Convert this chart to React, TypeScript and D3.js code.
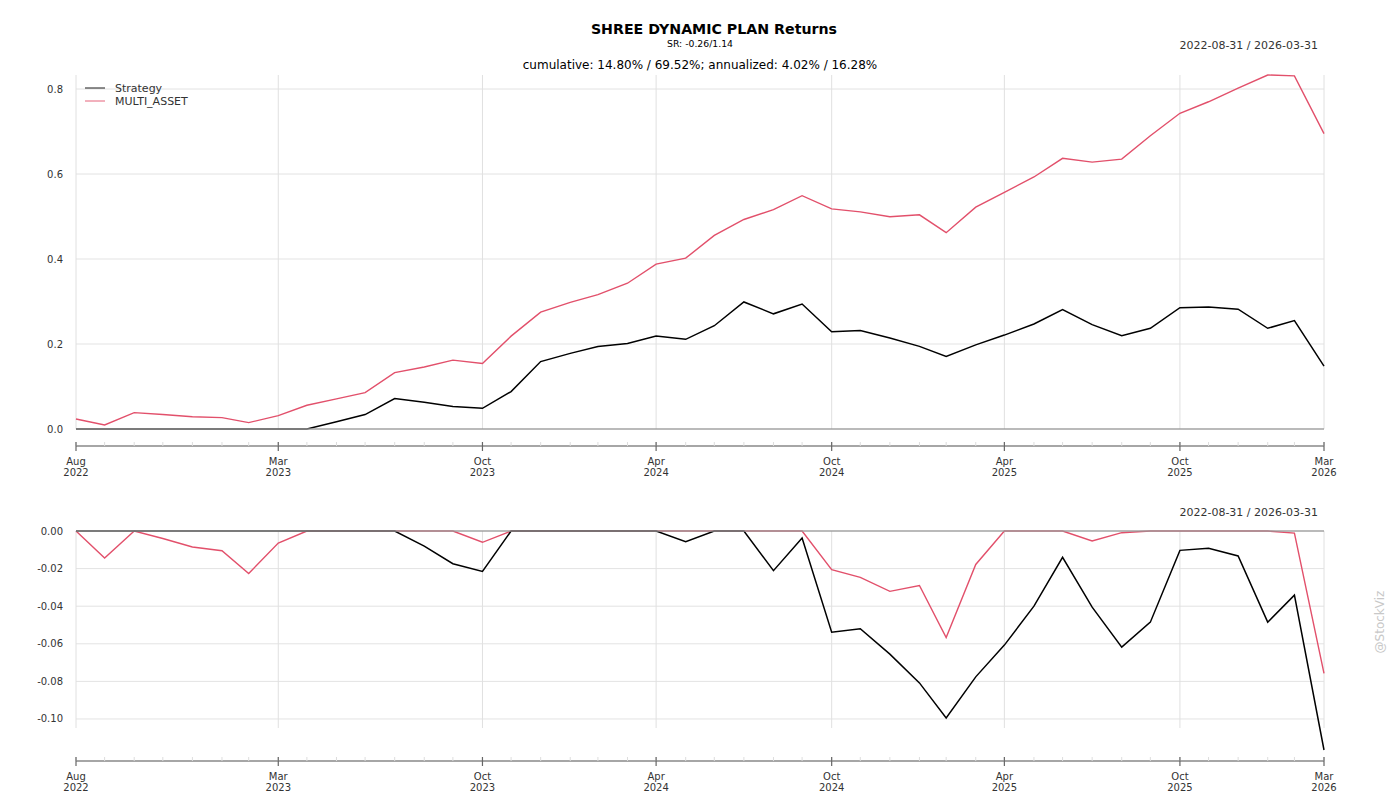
import React from "react";
import * as d3 from "d3";

const months: string[] = [
  "2022-08-31","2022-09-30","2022-10-31","2022-11-30","2022-12-31",
  "2023-01-31","2023-02-28","2023-03-31","2023-04-30","2023-05-31","2023-06-30","2023-07-31","2023-08-31","2023-09-30","2023-10-31","2023-11-30","2023-12-31",
  "2024-01-31","2024-02-29","2024-03-31","2024-04-30","2024-05-31","2024-06-30","2024-07-31","2024-08-31","2024-09-30","2024-10-31","2024-11-30","2024-12-31",
  "2025-01-31","2025-02-28","2025-03-31","2025-04-30","2025-05-31","2025-06-30","2025-07-31","2025-08-31","2025-09-30","2025-10-31","2025-11-30","2025-12-31",
  "2026-01-31","2026-02-28","2026-03-31",
];

const strategyCum: number[] = [
  0, 0, 0, 0, 0, 0, 0, 0, 0, 0.017, 0.034, 0.0715, 0.063, 0.053, 0.0487, 0.088, 0.1587,
  0.178, 0.194, 0.201, 0.219, 0.211, 0.243, 0.299, 0.271, 0.294, 0.229, 0.232, 0.214,
  0.1945, 0.171, 0.198, 0.221, 0.247, 0.281, 0.2455, 0.2196, 0.237, 0.2855, 0.287, 0.282,
  0.237, 0.255, 0.148,
];

const multiAssetCum: number[] = [
  0.0236, 0.0094, 0.0385, 0.034, 0.029, 0.0267, 0.015, 0.0314, 0.0558, 0.071, 0.0857, 0.1328, 0.146, 0.162, 0.154, 0.2185, 0.275,
  0.298, 0.316, 0.343, 0.388, 0.402, 0.4557, 0.493, 0.516, 0.549, 0.518, 0.511, 0.4996,
  0.504, 0.462, 0.522, 0.557, 0.593, 0.637, 0.628, 0.635, 0.69, 0.743, 0.77, 0.802,
  0.833, 0.831, 0.6952,
];

const strategyDD: number[] = [
  0, 0, 0, 0, 0, 0, 0, 0, 0, 0, 0, 0, -0.008, -0.0174, -0.0215, 0, 0,
  0, 0, 0, 0, -0.0057, 0, 0, -0.0211, -0.0037, -0.0538, -0.052, -0.0655,
  -0.0808, -0.0995, -0.0776, -0.0607, -0.04, -0.014, -0.0405, -0.0618, -0.0485, -0.0103, -0.0092, -0.0133,
  -0.0485, -0.0341, -0.1165,
];

const multiAssetDD: number[] = [
  0, -0.0144, 0, -0.004, -0.0085, -0.0105, -0.0226, -0.0064, 0, 0, 0, 0, 0, 0, -0.006, 0, 0,
  0, 0, 0, 0, 0, 0, 0, 0, 0, -0.0206, -0.0247, -0.0321,
  -0.029, -0.0567, -0.0178, 0, 0, 0, -0.0053, -0.0009, 0, 0, 0, 0,
  0, -0.0011, -0.0757,
];

const majorTicks: string[] = ["2022-08-31","2023-03-31","2023-10-31","2024-04-30","2024-10-31","2025-04-30","2025-10-31","2026-03-31"];
const majorLabels: [string, string][] = [["Aug","2022"],["Mar","2023"],["Oct","2023"],["Apr","2024"],["Oct","2024"],["Apr","2025"],["Oct","2025"],["Mar","2026"]];
const topYTicks: number[] = [0, 0.2, 0.4, 0.6, 0.8];
const botYTicks: number[] = [0, -0.02, -0.04, -0.06, -0.08, -0.1];

const seriesNames = ["Strategy", "MULTI_ASSET"];
const colors = ["#000000", "#e2506b"];

const FONT = "DejaVu Sans, sans-serif";
const parse = d3.utcParse("%Y-%m-%d");
const dates = months.map((m) => parse(m) as Date);

const X0 = 76, X1 = 1324;

function Panel(props: {
  yTop: number; yBot: number; axisY: number; domain: [number, number];
  ticks: number[]; fmt: (v: number) => string; s1: number[]; s2: number[]; legend?: boolean;
}) {
  const { yTop, yBot, axisY, domain, ticks, fmt, s1, s2, legend } = props;
  const x = d3.scaleUtc().domain([dates[0], dates[dates.length - 1]]).range([X0, X1]);
  const y = d3.scaleLinear().domain(domain).range([yBot, yTop]);
  const line = (vals: number[]) =>
    d3.line<number>().x((_, i) => x(dates[i])).y((v) => y(v))(vals) || "";
  const majors = majorTicks.map((m) => parse(m) as Date);
  return (
    <g>
      {ticks.filter((t) => t !== 0).map((t) => (
        <line key={"gy" + t} x1={X0} x2={X1} y1={y(t)} y2={y(t)} stroke="#e3e3e3" strokeWidth={1} />
      ))}
      {ticks.map((t) => (
        <text key={"ty" + t} x={63} y={y(t)} dy="0.35em" textAnchor="end" fontSize={10} fill="#333" fontFamily={FONT}>{fmt(t)}</text>
      ))}
      {majors.map((d, i) => (
        <line key={"gx" + i} x1={x(d)} x2={x(d)} y1={yTop} y2={yBot} stroke="#e0e0e0" strokeWidth={1} />
      ))}
      <path d={line(s2)} fill="none" stroke={colors[1]} strokeWidth={1.4} />
      <path d={line(s1)} fill="none" stroke={colors[0]} strokeWidth={1.5} />
      <line x1={X0} x2={X1} y1={y(0)} y2={y(0)} stroke="#999" strokeWidth={1.6} strokeOpacity={0.9} />
      {/* x axis */}
      <line x1={X0} x2={X1} y1={axisY} y2={axisY} stroke="#888" strokeWidth={1.3} />
      {dates.map((d, i) => (
        <line key={"mt" + i} x1={x(d)} x2={x(d)} y1={axisY - 4} y2={axisY} stroke="#ddd" strokeWidth={1} />
      ))}
      {majors.map((d, i) => (
        <g key={"xt" + i}>
          <line x1={x(d)} x2={x(d)} y1={axisY - 4} y2={axisY + 5} stroke="#666" strokeWidth={1.2} />
          <text x={x(d)} y={axisY + 15} textAnchor="middle" fontSize={10} fill="#333" fontFamily={FONT} dy="0.35em">{majorLabels[i][0]}</text>
          <text x={x(d)} y={axisY + 26} textAnchor="middle" fontSize={10} fill="#333" fontFamily={FONT} dy="0.35em">{majorLabels[i][1]}</text>
        </g>
      ))}
      {legend && seriesNames.map((n, i) => (
        <g key={n}>
          <line x1={85} x2={105} y1={88 + i * 13} y2={88 + i * 13} stroke={colors[i]} strokeWidth={0.9} />
          <text x={115} y={88 + i * 13} dy="0.35em" fontSize={11} fill="#333" fontFamily={FONT}>{n}</text>
        </g>
      ))}
    </g>
  );
}

export default function App() {
  return (
    <svg width={1400} height={800} style={{ position: "absolute", left: 0, top: 0, background: "#fff" }}>
      <rect width={1400} height={800} fill="#fff" />
      <text x={714} y={29} dy="0.35em" textAnchor="middle" fontSize={14.2} fontWeight="bold" fontFamily={FONT} fill="#000">SHREE DYNAMIC PLAN Returns</text>
      <text x={700} y={44} dy="0.35em" textAnchor="middle" fontSize={9.2} fontFamily={FONT} fill="#000" textLength={66} lengthAdjust="spacingAndGlyphs">SR: -0.26/1.14</text>
      <text x={700} y={65} dy="0.35em" textAnchor="middle" fontSize={12} fontFamily={FONT} fill="#000">cumulative: 14.80% / 69.52%; annualized: 4.02% / 16.28%</text>
      <text x={1318} y={45} dy="0.35em" textAnchor="end" fontSize={11} fontFamily={FONT} fill="#333">2022-08-31 / 2026-03-31</text>
      <text x={1318} y={512} dy="0.35em" textAnchor="end" fontSize={11} fontFamily={FONT} fill="#333">2022-08-31 / 2026-03-31</text>
      <Panel yTop={75} yBot={429} axisY={446} domain={[0, 0.833]} ticks={topYTicks} fmt={(v) => v.toFixed(1)} s1={strategyCum} s2={multiAssetCum} legend />
      <Panel yTop={531} yBot={728} axisY={761} domain={[-0.1048, 0]} ticks={botYTicks} fmt={(v) => v.toFixed(2)} s1={strategyDD} s2={multiAssetDD} />
      <text transform="translate(1380,622) rotate(-90)" textAnchor="middle" dy="0.35em" fontSize={12} fontFamily={FONT} fill="#c8c8c8">@StockViz</text>
    </svg>
  );
}
